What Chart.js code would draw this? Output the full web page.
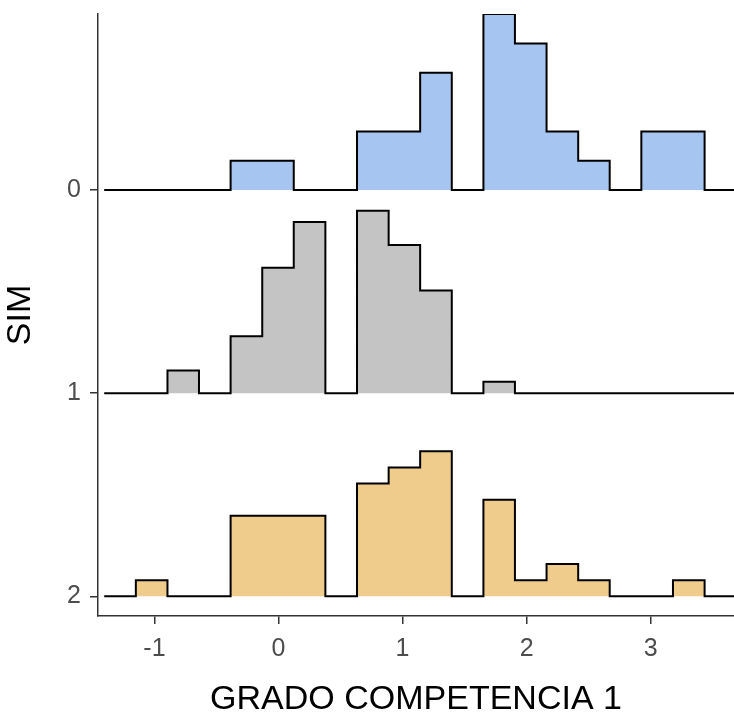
<!DOCTYPE html>
<html>
<head>
  <title>Grado competencia 1 por SIM</title>
  <script src="https://cdn.jsdelivr.net/npm/chart.js"></script>
  <style>
    body { margin: 0; background: #fff; }
  </style>
</head>
<body>
  <canvas id="ridgeChart" width="734" height="715"></canvas>

  <script>
    // groups (top to bottom) and their colours
    const groups = ['0', '1', '2'];
    const groupColors = ['#a6c5f0', '#c4c4c4', '#f0cc8c'];

    // shared histogram bin edges (19 bins)
    const binEdges = [-1.405, -1.150, -0.895, -0.641, -0.386, -0.131, 0.123, 0.378, 0.633, 0.888,
                      1.142, 1.397, 1.652, 1.906, 2.161, 2.416, 2.670, 2.925, 3.180, 3.435];

    // counts per bin for each group
    const counts0 = [0, 0, 0, 0, 1, 1, 0, 0, 2, 2, 4, 0, 6, 5, 2, 1, 0, 2, 2];
    const counts1 = [0, 0, 2, 0, 5, 11, 15, 0, 16, 13, 9, 0, 1, 0, 0, 0, 0, 0, 0];
    const counts2 = [0, 1, 0, 0, 5, 5, 5, 0, 7, 8, 9, 0, 6, 1, 2, 1, 0, 0, 1];

    const xTicks = [-1, 0, 1, 2, 3];

    // ridge height for a share of 1.0 of a group's observations
    const ridgeScale = 4.044;
    const xMin = -1.455, xMax = 3.672;

    // outline points of one ridge: flat tops per bin, baseline runs to the right edge
    function ridgePoints(counts, base) {
      const n = counts.reduce((a, b) => a + b, 0);
      const pts = [];
      counts.forEach((c, i) => {
        const y = base - c / n * ridgeScale;
        pts.push({ x: binEdges[i], y: y });
        pts.push({ x: binEdges[i + 1], y: y });
      });
      pts.push({ x: binEdges[binEdges.length - 1], y: base });
      pts.push({ x: xMax, y: base });
      return pts;
    }

    const allCounts = [counts0, counts1, counts2];
    const datasets = allCounts.map((counts, i) => ({
      label: groups[i],
      data: ridgePoints(counts, i),
      borderColor: '#000',
      borderWidth: 2,
      backgroundColor: groupColors[i],
      fill: { value: i },
      pointRadius: 0,
      tension: 0,
      borderJoinStyle: 'miter'
    }));

    const tickFont = { family: '"Liberation Sans", Arial, sans-serif', size: 25 };
    const titleFont = { family: '"Liberation Sans", Arial, sans-serif', size: 34, lineHeight: 0.9 };

    new Chart(document.getElementById('ridgeChart').getContext('2d'), {
      type: 'line',
      data: { datasets: datasets },
      options: {
        responsive: false,
        animation: false,
        devicePixelRatio: 1,
        layout: { padding: { top: 14, right: 0, left: 0, bottom: 0 } },
        plugins: { legend: { display: false }, tooltip: { enabled: false } },
        scales: {
          x: {
            type: 'linear',
            min: xMin,
            max: xMax,
            afterBuildTicks: s => { s.ticks = xTicks.map(v => ({ value: v })); },
            afterFit: s => { s.height = 99; s.paddingLeft = 0; s.paddingRight = 0; },
            ticks: { font: tickFont, color: '#4d4d4d', padding: 10, callback: v => String(v) },
            grid: { drawOnChartArea: false, tickLength: 8, color: '#333', lineWidth: 1.5 },
            border: { color: '#333', width: 1.5 },
            title: { display: true, text: 'GRADO COMPETENCIA 1', font: titleFont, color: '#000', padding: 0 }
          },
          y: {
            type: 'linear',
            reverse: true,
            min: -0.867,
            max: 2.097,
            afterBuildTicks: s => { s.ticks = groups.map((g, i) => ({ value: i })); },
            afterFit: s => { s.width = 98; s.paddingTop = 0; s.paddingBottom = 0; },
            ticks: { font: tickFont, color: '#4d4d4d', padding: 9, callback: (v, i) => groups[i] },
            grid: { drawOnChartArea: false, tickLength: 8, color: '#333', lineWidth: 1.5 },
            border: { color: '#333', width: 1.5 },
            title: { display: true, text: 'SIM', font: titleFont, color: '#000', padding: { top: 5.5, bottom: 0 } }
          }
        }
      }
    });
  </script>
</body>
</html>
